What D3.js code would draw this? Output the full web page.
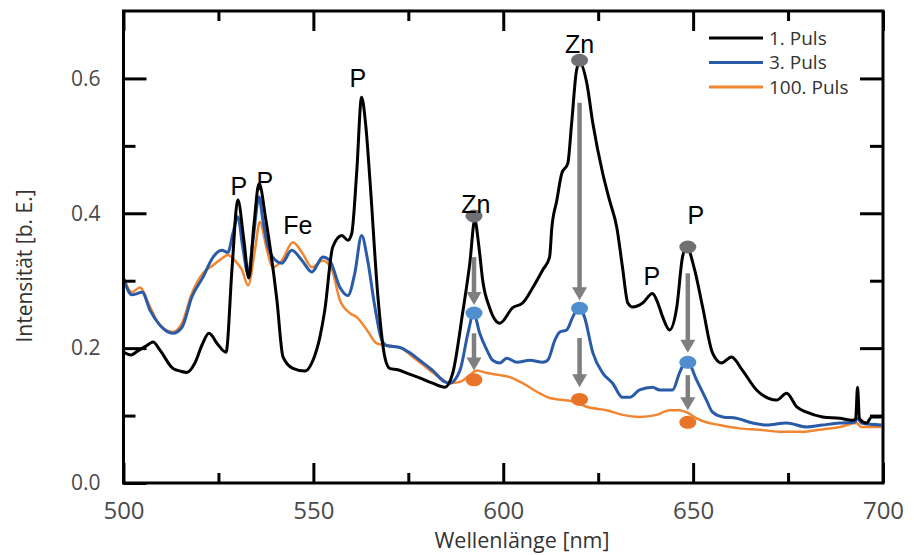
<!DOCTYPE html>
<head>
<style type="text/css">
    body {
      margin: 0;
      background: #fff;
    }
    text { font-family: "Open Sans", sans-serif; }
</style>
</head>
<script src="https://d3js.org/d3.v7.min.js"></script>
<body>
    <svg width="914" height="555"></svg>
    <script>
        // spectra: [wavelength nm, intensity]
        var puls1 = [
            [500.1,0.194],[502.0,0.190],[503.8,0.196],[505.9,0.203],[507.8,0.209],[509.6,0.197],
            [513.0,0.170],[514.9,0.166],[516.7,0.164],[518.8,0.178],[520.7,0.205],[522.5,0.222],
            [524.9,0.205],[527.0,0.194],[528.6,0.320],[530.1,0.420],[531.7,0.360],[533.0,0.304],
            [534.3,0.380],[535.7,0.444],[537.5,0.390],[540.4,0.271],[542.0,0.187],[544.6,0.170],
            [547.8,0.166],[549.9,0.182],[551.7,0.216],[553.0,0.256],[555.1,0.350],[557.5,0.367],
            [559.1,0.360],[560.1,0.370],[561.4,0.460],[562.7,0.572],[563.8,0.530],[564.9,0.449],
            [567.0,0.276],[568.8,0.187],[570.1,0.170],[572.2,0.168],[574.6,0.163],[578.0,0.156],
            [581.4,0.148],[584.6,0.142],[586.7,0.163],[589.3,0.252],[591.2,0.326],[592.5,0.390],
            [593.6,0.350],[594.6,0.300],[596.4,0.260],[599.1,0.237],[602.5,0.260],[605.1,0.267],
            [607.8,0.290],[610.4,0.316],[612.2,0.335],[612.8,0.379],[614.1,0.419],[615.4,0.459],
            [617.0,0.474],[618.0,0.533],[619.3,0.612],[620.1,0.624],[622.0,0.593],[623.6,0.533],
            [626.2,0.459],[628.0,0.419],[629.9,0.379],[631.4,0.320],[632.8,0.267],[634.1,0.261],
            [636.7,0.267],[639.3,0.281],[640.7,0.267],[642.0,0.246],[643.8,0.227],[645.7,0.261],
            [647.2,0.335],[648.3,0.350],[650.4,0.316],[652.5,0.261],[655.1,0.193],[657.5,0.178],
            [660.1,0.187],[663.0,0.167],[666.7,0.138],[672.0,0.123],[674.6,0.133],[677.3,0.113],
            [679.9,0.105],[684.1,0.098],[688.6,0.096],[692.0,0.093],[692.8,0.095],[693.3,0.142],
            [693.8,0.095],[695.7,0.089],[697.0,0.098],[699.6,0.098]
        ];
        var puls3 = [
            [500.0,0.304],[502.2,0.279],[504.9,0.283],[507.0,0.256],[509.6,0.234],[513.0,0.222],
            [515.4,0.231],[518.0,0.276],[520.9,0.305],[523.6,0.335],[525.9,0.345],[527.5,0.342],
            [528.8,0.370],[530.1,0.395],[531.4,0.350],[532.8,0.310],[534.1,0.360],[535.7,0.424],
            [536.7,0.390],[537.8,0.356],[539.3,0.335],[541.7,0.326],[544.3,0.345],[547.0,0.330],
            [549.6,0.313],[552.5,0.335],[554.3,0.330],[557.0,0.290],[559.1,0.278],[560.9,0.311],
            [562.7,0.367],[564.3,0.330],[566.2,0.261],[568.0,0.212],[569.3,0.204],[572.8,0.201],
            [575.4,0.193],[578.0,0.182],[581.4,0.167],[584.6,0.150],[585.9,0.148],[588.6,0.167],
            [590.7,0.222],[592.2,0.252],[593.8,0.222],[595.7,0.197],[597.2,0.182],[599.1,0.178],
            [600.9,0.185],[603.6,0.179],[607.0,0.182],[610.4,0.179],[611.7,0.182],[613.6,0.212],
            [614.9,0.224],[616.7,0.227],[618.3,0.246],[619.9,0.261],[621.4,0.246],[623.6,0.193],
            [626.2,0.163],[628.8,0.148],[631.4,0.127],[633.3,0.127],[635.9,0.138],[639.3,0.142],
            [641.2,0.138],[644.6,0.138],[646.4,0.163],[648.3,0.182],[650.9,0.153],[653.5,0.123],
            [655.1,0.105],[657.8,0.098],[661.4,0.096],[665.7,0.089],[669.3,0.086],[674.6,0.089],
            [679.9,0.083],[684.1,0.086],[688.6,0.089],[692.5,0.090],[693.3,0.096],[694.3,0.089],
            [699.6,0.086]
        ];
        var puls100 = [
            [500.0,0.305],[502.2,0.283],[504.3,0.290],[507.0,0.261],[509.6,0.234],[513.0,0.224],
            [515.4,0.237],[518.0,0.281],[520.9,0.311],[523.6,0.323],[525.9,0.333],[527.5,0.338],
            [529.3,0.330],[531.2,0.316],[532.8,0.293],[534.6,0.345],[535.9,0.387],[537.8,0.345],
            [539.3,0.320],[541.7,0.330],[544.6,0.357],[547.0,0.342],[549.6,0.320],[552.5,0.330],
            [554.9,0.316],[557.0,0.271],[559.6,0.252],[561.4,0.246],[564.1,0.227],[566.7,0.207],
            [569.3,0.204],[572.8,0.201],[576.2,0.187],[580.7,0.167],[584.1,0.153],[585.9,0.148],
            [588.6,0.150],[591.2,0.160],[593.0,0.167],[595.7,0.163],[599.1,0.160],[601.7,0.157],
            [605.1,0.148],[609.6,0.133],[612.2,0.126],[615.7,0.123],[619.3,0.120],[622.0,0.113],
            [627.2,0.108],[631.4,0.101],[635.9,0.098],[640.4,0.101],[643.8,0.108],[646.4,0.108],
            [648.6,0.104],[650.9,0.096],[653.5,0.090],[656.9,0.086],[662.2,0.081],[667.5,0.079],
            [672.8,0.076],[678.8,0.076],[683.3,0.079],[688.6,0.083],[693.0,0.089],[694.3,0.083],
            [699.6,0.083]
        ];

        var seriesNames = ["1. Puls", "3. Puls", "100. Puls"];
        var seriesColors = ["#000000", "#2a5ba8", "#f28530"];
        var dotColors = ["#6e7073", "#4f8fd0", "#e8742a"];

        // peak markers [wavelength, intensity] per pulse
        var dots1 = [[592.3,0.396],[620.1,0.627],[648.6,0.350]];
        var dots3 = [[592.3,0.252],[620.1,0.259],[648.6,0.179]];
        var dots100 = [[592.3,0.153],[620.1,0.124],[648.6,0.090]];

        // arrows [wavelength, from, to]
        var arrows = [
            [592.3,0.335,0.264],[592.3,0.222,0.167],
            [620.1,0.564,0.271],[620.1,0.215,0.142],
            [648.6,0.311,0.193],[648.6,0.160,0.108]
        ];

        var peakLabels = ["P","P","Fe","P","Zn","Zn","P","P"];
        var peakAt = [[530.4,0.427],[537.2,0.434],[545.9,0.370],[561.7,0.587],[592.8,0.401],[620.1,0.637],[639.1,0.293],[650.7,0.384]];

        var xMajor = [500, 550, 600, 650, 700],
            xMinor = [525, 575, 625, 675],
            yMajor = [0, 0.2, 0.4, 0.6],
            yMinor = [0.1, 0.3, 0.5];

        var plotL = 123.5, plotR = 883, plotT = 11, plotB = 483;

        var x = d3.scaleLinear().domain([500, 700]).range([plotL, plotR]);
        var y = d3.scaleLinear().domain([0, 0.7]).range([plotB, plotT]);

        var svg = d3.select("svg");

        var line = d3.line()
            .curve(d3.curveMonotoneX)
            .x(function(d) { return x(d[0]); })
            .y(function(d) { return y(d[1]); });

        // spectra, orange at the back
        var series = [puls1, puls3, puls100];
        [2, 1, 0].forEach(function(i) {
            svg.append("path")
                .datum(series[i])
                .attr("d", line)
                .attr("fill", "none")
                .attr("stroke", seriesColors[i])
                .attr("stroke-width", i == 2 ? 2.5 : 3)
                .attr("stroke-linejoin", "round");
        });

        // markers
        [dots1, dots3, dots100].forEach(function(ds, i) {
            svg.selectAll(null)
                .data(ds)
                .enter().append("ellipse")
                .attr("cx", function(d) { return x(d[0]); })
                .attr("cy", function(d) { return y(d[1]); })
                .attr("rx", 8.5)
                .attr("ry", 6.5)
                .attr("fill", dotColors[i]);
        });

        // arrows
        var ag = svg.selectAll(".arrow")
            .data(arrows)
            .enter().append("g")
            .attr("class", "arrow");
        ag.append("line")
            .attr("x1", function(d) { return x(d[0]); })
            .attr("x2", function(d) { return x(d[0]); })
            .attr("y1", function(d) { return y(d[1]); })
            .attr("y2", function(d) { return y(d[2]) - 10; })
            .attr("stroke", "#7f7f7f")
            .attr("stroke-width", 4.5);
        ag.append("path")
            .attr("d", function(d) {
                var cx = x(d[0]), ty = y(d[2]);
                return "M" + (cx - 7.5) + "," + (ty - 13) + "L" + (cx + 7.5) + "," + (ty - 13) + "L" + cx + "," + ty + "Z";
            })
            .attr("fill", "#7f7f7f");

        // peak labels
        svg.selectAll(".peak")
            .data(peakAt)
            .enter().append("text")
            .attr("class", "peak")
            .attr("x", function(d) { return x(d[0]); })
            .attr("y", function(d) { return y(d[1]); })
            .attr("text-anchor", "middle")
            .style("font-family", "'Liberation Sans', Arial, sans-serif")
            .style("font-size", "25px")
            .attr("fill", "#000")
            .text(function(d, i) { return peakLabels[i]; });

        // axes: ticks drawn inward on all four sides
        function tickStyle(g) {
            g.select(".domain").remove();
            g.selectAll(".tick line").attr("stroke", "#000").attr("stroke-width", 3);
            g.selectAll(".tick text").attr("fill", "#4a4a4a");
        }

        svg.append("g")
            .attr("transform", "translate(0," + plotB + ")")
            .call(d3.axisBottom(x).tickValues(xMajor).tickSize(-20).tickPadding(19).tickFormat(d3.format("d")))
            .call(tickStyle)
            .selectAll("text").style("font-size", "24px").style("font-family", "'Open Sans', sans-serif");
        svg.append("g")
            .attr("transform", "translate(0," + plotB + ")")
            .call(d3.axisBottom(x).tickValues(xMinor).tickSize(-10).tickFormat(""))
            .call(tickStyle);
        svg.append("g")
            .attr("transform", "translate(0," + plotT + ")")
            .call(d3.axisTop(x).tickValues(xMajor).tickSize(-20).tickFormat(""))
            .call(tickStyle);
        svg.append("g")
            .attr("transform", "translate(0," + plotT + ")")
            .call(d3.axisTop(x).tickValues(xMinor).tickSize(-10).tickFormat(""))
            .call(tickStyle);

        svg.append("g")
            .attr("transform", "translate(" + plotL + ",0)")
            .call(d3.axisLeft(y).tickValues(yMajor).tickSize(-23).tickPadding(23).tickFormat(d3.format(".1f")))
            .call(tickStyle)
            .selectAll("text").style("font-size", "21px").style("font-family", "'Open Sans', sans-serif");
        svg.append("g")
            .attr("transform", "translate(" + plotL + ",0)")
            .call(d3.axisLeft(y).tickValues(yMinor).tickSize(-12).tickFormat(""))
            .call(tickStyle);
        svg.append("g")
            .attr("transform", "translate(" + plotR + ",0)")
            .call(d3.axisRight(y).tickValues(yMajor.slice(1)).tickSize(-23).tickFormat(""))
            .call(tickStyle);
        svg.append("g")
            .attr("transform", "translate(" + plotR + ",0)")
            .call(d3.axisRight(y).tickValues(yMinor).tickSize(-13).tickFormat(""))
            .call(tickStyle);

        // frame
        svg.append("rect")
            .attr("x", plotL)
            .attr("y", plotT)
            .attr("width", plotR - plotL)
            .attr("height", plotB - plotT)
            .attr("fill", "none")
            .attr("stroke", "#000")
            .attr("stroke-width", 3);

        // axis titles
        svg.append("text")
            .attr("x", 522)
            .attr("y", 548)
            .attr("text-anchor", "middle")
            .attr("fill", "#333")
            .style("font-size", "21.5px")
            .text("Wellenlänge [nm]");
        svg.append("text")
            .attr("transform", "translate(32," + 266 + ")rotate(-90)")
            .attr("text-anchor", "middle")
            .attr("fill", "#333")
            .style("font-size", "21px")
            .text("Intensität [b. E.]");

        // legend
        var lg = svg.selectAll(".legend")
            .data(seriesNames)
            .enter().append("g")
            .attr("class", "legend")
            .attr("transform", function(d, i) { return "translate(709," + (38 + i * 24.5) + ")"; });
        lg.append("line")
            .attr("x1", 0).attr("x2", 54)
            .attr("stroke", function(d, i) { return seriesColors[i]; })
            .attr("stroke-width", 3);
        lg.append("text")
            .attr("x", 60)
            .attr("dy", "0.35em")
            .attr("fill", "#333")
            .style("font-size", "19px")
            .text(function(d) { return d; });
    </script>
</body>
